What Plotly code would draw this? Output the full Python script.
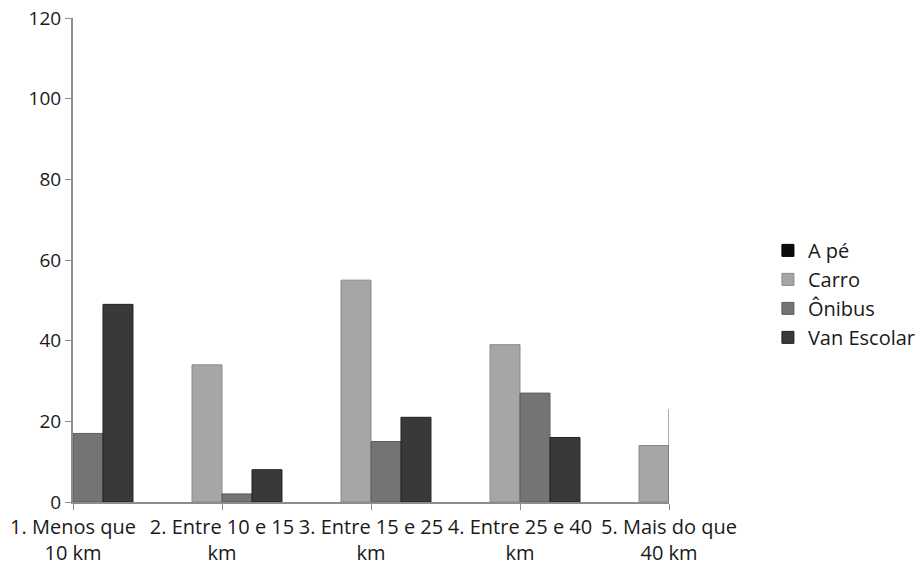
import plotly.graph_objects as go

categories = ["1. Menos que<br>10 km", "2. Entre 10 e 15<br>km", "3. Entre 15 e 25<br>km",
              "4. Entre 25 e 40<br>km", "5. Mais do que<br>40 km"]
a_pe = [0, 0, 0, 0, 0]
carro = [0, 34, 55, 39, 14]
onibus = [17, 2, 15, 27, 23]
van_escolar = [49, 8, 21, 16, 0]

series = [("A pé", a_pe, "#0b0b0b", "#000000"), ("Carro", carro, "#a6a6a6", "#8a8a8a"),
          ("Ônibus", onibus, "#747474", "#5c5c5c"), ("Van Escolar", van_escolar, "#393939", "#222222")]

xpos = list(range(len(categories)))
fig = go.Figure()
for name, vals, col, edge in series:
    fig.add_trace(go.Bar(x=xpos, y=[v if v else None for v in vals], name=name,
                         marker=dict(color=col, line=dict(color=edge, width=1))))

font = "'Open Sans', sans-serif"
fig.update_layout(
    width=923, height=569,
    margin=dict(l=65, r=262, t=10, b=75),
    paper_bgcolor="white", plot_bgcolor="white",
    barmode="group", bargap=0.195, bargroupgap=0,
    font=dict(family=font, size=20, color="#1a1a1a"),
    legend=dict(x=1.166, y=0.43, xanchor="left", yanchor="middle", itemwidth=30,
                tracegroupgap=0, font=dict(size=20), bgcolor="rgba(0,0,0,0)"),
    showlegend=True,
)
fig.update_xaxes(range=[0, 4], tickvals=xpos, ticktext=categories, showgrid=False, automargin=False,
                 showline=True, linecolor="#8c8c8c", linewidth=2, ticks="outside",
                 ticklen=6, tickcolor="#8c8c8c", zeroline=False, tickangle=0,
                 ticklabeloverflow="allow")
fig.update_yaxes(range=[0, 120], dtick=20, showgrid=False, showline=True, linecolor="#8c8c8c",
                 automargin=False, linewidth=2, ticks="outside", ticklen=6, tickcolor="#8c8c8c",
                 zeroline=False, ticklabeloverflow="allow", tickfont=dict(size=19))
fig.write_html("out.html")
